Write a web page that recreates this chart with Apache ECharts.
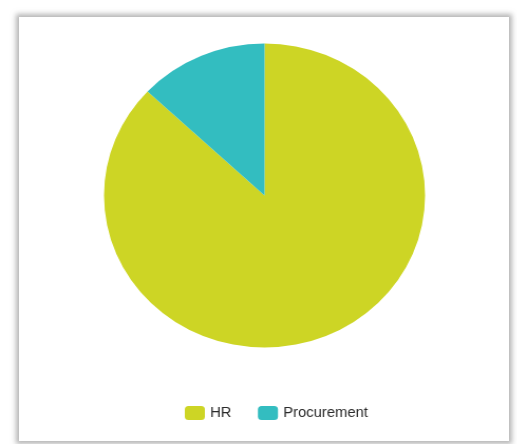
<!DOCTYPE html>
<html>
<head>
<meta charset="utf-8">
<script src="https://cdn.jsdelivr.net/npm/echarts@6/dist/echarts.min.js"></script>
<style>
  html, body { margin: 0; padding: 0; background: #ffffff; }
  #wrap { position: relative; width: 517px; height: 444px; overflow: hidden; }
  #panel {
    position: absolute; left: 19px; top: 17px; width: 490px; height: 424px;
    background: #ffffff;
    box-shadow: 0 0 5px 3px rgba(120,120,120,0.55);
  }
  /* the drawing is slightly wider than tall, so the chart is stretched horizontally */
  #chart {
    position: absolute; left: 0; top: 0; width: 490px; height: 444px;
    transform: scaleX(1.056); transform-origin: 0 0;
  }
</style>
</head>
<body>
<div id="wrap">
  <div id="panel"></div>
  <div id="chart"></div>
</div>
<script>
  // Headcount share by department
  const categories = ['HR', 'Procurement'];
  const values = [87, 13];
  const colors = ['#cdd525', '#33bdc0'];

  const chart = echarts.init(document.getElementById('chart'), null, { renderer: 'canvas' });
  chart.setOption({
    backgroundColor: 'transparent',
    animation: false,
    color: colors,
    legend: {
      top: 401,
      left: 170,
      itemWidth: 19,
      itemHeight: 14,
      itemGap: 25,
      icon: 'roundRect',
      textStyle: { fontFamily: 'Liberation Sans, Arial, sans-serif', fontSize: 14, color: '#2a2a2a' },
      data: categories
    },
    series: [{
      type: 'pie',
      center: [250.5, 195.5],
      radius: [0, 152],
      startAngle: 90,
      clockwise: true,
      label: { show: false },
      labelLine: { show: false },
      itemStyle: { borderWidth: 0 },
      emphasis: { disabled: true },
      data: categories.map((name, i) => ({ name, value: values[i] }))
    }]
  });
</script>
</body>
</html>
